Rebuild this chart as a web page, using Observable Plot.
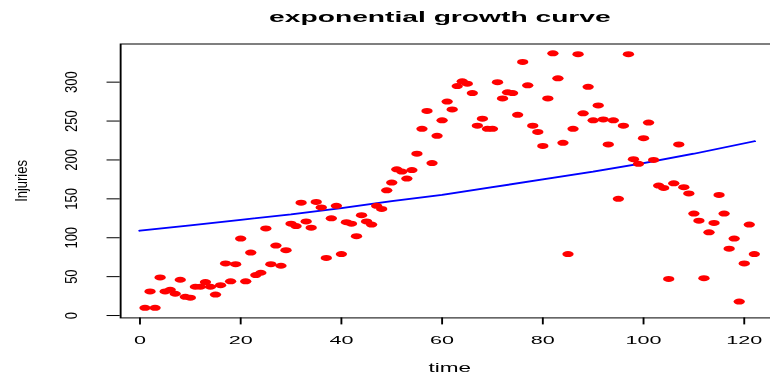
<!DOCTYPE html>
<html>
<head>
<meta charset="utf-8">
<script src="https://cdn.jsdelivr.net/npm/d3@7"></script>
<script src="https://cdn.jsdelivr.net/npm/@observablehq/plot@0.6"></script>
<style>
  html, body { margin: 0; padding: 0; background: #fff; overflow: hidden; width: 770px; height: 376px; }
  #wrap { position: relative; width: 415px; height: 376px; transform: scaleX(1.88); transform-origin: 0 0;
          font-family: "Liberation Sans", Arial, sans-serif; }
  #title { position: absolute; left: 0; top: 8.8px; width: 468px; text-align: center; font-weight: bold;
           font-size: 15px; line-height: 1; color: #000; }
</style>
</head>
<body>
<div id="wrap"><div id="chart"></div><div id="title">exponential growth curve</div></div>
<script>
const time = [1,2,3,4,5,6,7,8,9,10,11,12,13,14,15,16,17,18,19,20,
  21,22,23,24,25,26,27,28,29,30,31,32,33,34,35,36,37,38,39,40,
  41,42,43,44,45,46,47,48,49,50,51,52,53,54,55,56,57,58,59,60,
  61,62,63,64,65,66,67,68,69,70,71,72,73,74,75,76,77,78,79,80,
  81,82,83,84,85,86,87,88,89,90,91,92,93,94,95,96,97,98,99,100,
  101,102,103,104,105,106,107,108,109,110,111,112,113,114,115,116,117,118,119,120,
  121,122];
const injuries = [10,31,10,49,31,33,28,46,24,23,37,37,43,37,27,39,67,44,66,99,
  44,81,52,55,112,66,90,64,84,118,115,145,121,113,146,139,74,125,141,79,
  120,118,102,129,121,117,141,137,161,171,188,185,176,187,208,240,263,196,231,251,
  275,265,295,301,298,286,244,253,240,240,300,279,287,286,258,326,296,244,236,218,
  279,337,305,222,79,240,336,260,294,251,270,252,220,251,150,244,336,201,195,228,
  248,200,167,164,47,170,220,165,157,131,122,48,107,119,155,131,86,99,18,67,
  117,79];
const fitTime = [0,10,20,30,40,50,60,70,80,90,100,110,122];
const fitInjuries = [109,116,123,130,138,147,155,165,175,185,196,208,224];
const xTicks = [0,20,40,60,80,100,120];
const yTicks = [0,50,100,150,200,250,300];
const titleText = "exponential growth curve";
const xLabel = "time";
const yLabel = "Injuries";

document.getElementById("title").textContent = titleText;

const points = time.map((t, i) => ({t, v: injuries[i]}));
const fit = fitTime.map((t, i) => ({t, v: fitInjuries[i]}));

const plot = Plot.plot({
  width: 415,
  height: 376,
  marginLeft: 63.67,
  marginRight: 1.3,
  marginTop: 43.5,
  marginBottom: 58.6,
  x: {domain: [-3.84, 126.84]},
  y: {domain: [-3.04, 349.04]},
  style: {fontFamily: "'Liberation Sans', Arial, sans-serif", background: "transparent", color: "black", overflow: "visible"},
  marks: [
    Plot.line(fit, {x: "t", y: "v", stroke: "blue", strokeWidth: 1.8}),
    Plot.dot(points, {x: "t", y: "v", r: 3.0, fill: "red", stroke: "none"}),
    Plot.frame({stroke: "black", strokeWidth: 1}),
    Plot.axisX({ticks: xTicks, tickSize: 7, tickPadding: 10.5, fontSize: 11.5, label: null}),
    Plot.axisY({ticks: yTicks, tickSize: 7, tickFormat: () => "", label: null}),
    Plot.text(yTicks, {y: d => d, text: d => String(d), frameAnchor: "left", dx: -25.9, rotate: -90,
      fontSize: 13, textAnchor: "middle", lineAnchor: "middle", fill: "black"}),
    Plot.text([yLabel], {text: d => d, frameAnchor: "left", dx: -52.8, rotate: -90,
      fontSize: 13, textAnchor: "middle", lineAnchor: "middle", fill: "black"}),
    Plot.text([xLabel], {text: d => d, frameAnchor: "bottom", dy: 50.3,
      fontSize: 12, textAnchor: "middle", lineAnchor: "middle", fill: "black"})
  ]
});

// compensate the horizontal stretch for rotated (vertical) texts
plot.querySelectorAll("text").forEach(el => {
  const tr = el.getAttribute("transform") || "";
  if (tr.includes("rotate")) el.setAttribute("transform", tr + " scale(1,0.66)");
});

document.getElementById("chart").appendChild(plot);
</script>
</body>
</html>
